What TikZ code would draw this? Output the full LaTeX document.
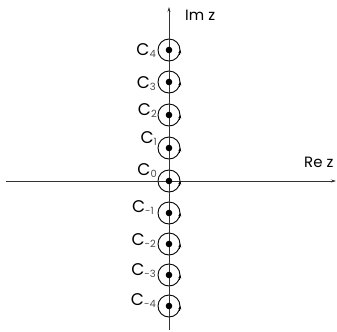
\documentclass[tikz,border=0pt]{standalone}
\usepackage{fontspec}
\setmainfont{Poppins}
\usetikzlibrary{arrows.meta}
\tikzset{
  pole/.style={circle,draw,line width=0.9pt,minimum size=22bp,inner sep=0pt},
  lab/.style={anchor=base east,inner sep=0pt,font=\fontsize{17}{18}\selectfont},
  axis/.style={line width=0.6pt,black!80,-{Stealth[length=5pt,width=3pt]}},
}
\newcommand{\poleloop}[1]{%
  \fill (#1) circle (3.3bp);
  \draw[line width=0.9pt,-{Stealth[length=3.5pt,width=3pt]}] (#1.-25) -- (#1.east);}
\newcommand{\sub}[1]{\raisebox{-2.5bp}{\fontsize{10}{10}\selectfont\color{black!70}#1}}
\begin{document}
\begin{tikzpicture}[x=1bp,y=-1bp]
\useasboundingbox (0,0) rectangle (337,332);
\path coordinate (W) at (6,181)
coordinate (E) at (336,181)
coordinate (S) at (169,330)
coordinate (N) at (169,7)
node[pole] (c4) at (169,50) {}
node[pole] (c3) at (169,82) {}
node[pole] (c2) at (169,115) {}
node[pole] (c1) at (169,148) {}
node[pole] (c0) at (169,181) {}
node[pole] (cm1) at (169,213) {}
node[pole] (cm2) at (169,244) {}
node[pole] (cm3) at (169,275) {}
node[pole] (cm4) at (169,306) {}
node[lab] (l4) at (156,55) {C\sub{4}}
node[lab] (l3) at (156,88) {C\sub{3}}
node[lab] (l2) at (157,115) {C\sub{2}}
node[lab] (l1) at (157,143) {C\sub{1}}
node[lab] (l0) at (157,175) {C\sub{0}}
node[lab] (lm1) at (154,212) {C\sub{-1}}
node[lab] (lm2) at (156,245) {C\sub{-2}}
node[lab] (lm3) at (156,275) {C\sub{-3}}
node[lab] (lm4) at (156,305) {C\sub{-4}}
node[lab,anchor=base west,font=\fontsize{15}{18}\selectfont] (im) at (185,20) {Im z}
node[lab,anchor=base west,font=\fontsize{15}{18}\selectfont] (re) at (304,167) {Re z}
;
\draw[axis] (W) -- (E);
\draw[axis] (S) -- (N);
\poleloop{c4} \poleloop{c3} \poleloop{c2} \poleloop{c1} \poleloop{c0}
\poleloop{cm1} \poleloop{cm2} \poleloop{cm3} \poleloop{cm4}
\end{tikzpicture}
\end{document}
